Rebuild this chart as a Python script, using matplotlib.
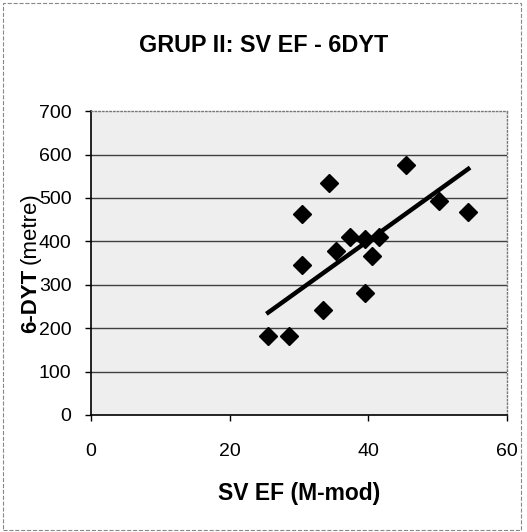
import numpy as np
import matplotlib
matplotlib.use("Agg")
import matplotlib.pyplot as plt
from matplotlib.patches import Rectangle

# data
sv_ef = [25.6, 28.6, 30.4, 30.5, 33.5, 34.3, 35.3, 37.4, 39.5, 41.6, 40.6, 39.5, 45.4, 50.2, 54.4]
dyt6 = [181, 181, 463, 346, 242, 535, 377, 410, 406, 410, 367, 281, 577, 493, 468]
# trend line ends as drawn in the chart
trend_x = [25.3, 54.7]
trend_y = [233, 570]
x_ticks = [0, 20, 40, 60]
y_ticks = [0, 100, 200, 300, 400, 500, 600, 700]

plt.rcParams['font.family'] = ['Liberation Sans', 'DejaVu Sans']
plt.rcParams['hatch.color'] = '#b0b0b0'
plt.rcParams['hatch.linewidth'] = 0.6

fig = plt.figure(figsize=(5.27, 5.32), dpi=100)
ax = fig.add_axes([0.1727, 0.22, 0.789, 0.571])

# stippled plot area
ax.set_facecolor('#eeeeee')
ax.patch.set_hatch('..')

ax.plot(trend_x, trend_y, color='black', lw=3.2, solid_capstyle='butt', zorder=3)
ax.plot(sv_ef, dyt6, linestyle='none', marker='D', ms=9.5, color='black', zorder=4)

ax.set_xlim(0, 60)
ax.set_ylim(0, 700)
ax.set_xticks(x_ticks)
ax.set_yticks(y_ticks)
ax.tick_params(labelsize=14, direction='out', length=4, width=1)
ax.tick_params(axis='x', pad=16)
ax.tick_params(axis='y', pad=10)

for yv in y_ticks[1:-1]:
    ax.axhline(yv, color='#404040', lw=1.0, zorder=1)

ax.spines['left'].set_color('black')
ax.spines['bottom'].set_color('black')
ax.spines['left'].set_linewidth(1.2)
ax.spines['bottom'].set_linewidth(1.2)
for s in ['top', 'right']:
    ax.spines[s].set_color('#777777')
    ax.spines[s].set_linestyle(':')
    ax.spines[s].set_linewidth(1.0)

ax.set_xlabel('SV EF (M-mod)', fontsize=16.5, fontweight='bold', labelpad=16)

fig.text(0.5, 0.915, 'GRUP II: SV EF - 6DYT', ha='center', va='center',
         fontsize=16.8, fontweight='bold')

# y label: bold part + regular part
fig.text(0.058, 1 - 333 / 532, '6-DYT', rotation=90, ha='center', va='bottom',
         fontsize=16, fontweight='bold')
fig.text(0.058, 1 - 264 / 532, '(metre)', rotation=90, ha='center', va='bottom',
         fontsize=16)

# outer chart border
fig.patches.append(Rectangle((0.006, 0.004), 0.983, 0.99, transform=fig.transFigure,
                             fill=False, edgecolor='#888888', lw=0.8, linestyle='--'))

fig.savefig('out.png', dpi=100)
